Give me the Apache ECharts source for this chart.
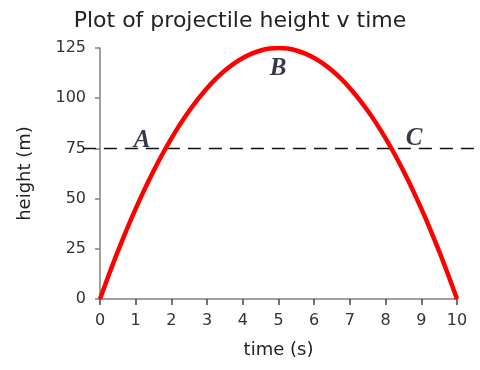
<!DOCTYPE html>
<html>
<head>
<meta charset="utf-8">
<script src="https://cdn.jsdelivr.net/npm/echarts@6/dist/echarts.min.js"></script>
<style>
  html, body { margin: 0; padding: 0; background: #fff; }
  #chart { width: 480px; height: 370px; }
</style>
</head>
<body>
<div id="chart"></div>
<script>
// Projectile flight: time (s) against height (m), sampled every quarter second
const times = [
  0, 0.25, 0.5, 0.75, 1, 1.25, 1.5, 1.75, 2, 2.25, 2.5, 2.75, 3, 3.25, 3.5, 3.75, 4, 4.25, 4.5, 4.75,
  5, 5.25, 5.5, 5.75, 6, 6.25, 6.5, 6.75, 7, 7.25, 7.5, 7.75, 8, 8.25, 8.5, 8.75, 9, 9.25, 9.5, 9.75, 10
];
const heights = [
  0, 12.2, 23.75, 34.7, 45, 54.7, 63.75, 72.2, 80, 87.2, 93.75, 99.7, 105, 109.7, 113.75, 117.2, 120, 122.2, 123.75, 124.7,
  125, 124.7, 123.75, 122.2, 120, 117.2, 113.75, 109.7, 105, 99.7, 93.75, 87.2, 80, 72.2, 63.75, 54.7, 45, 34.7, 23.75, 12.2, 0
];

// Reference height drawn as a dashed line, running a little past both axes
const refHeight = 75;
const refSpan = [-0.48, 10.8];

// Marked points on the path
const markNames = ['A', 'B', 'C'];
const markX = [1.18, 4.99, 8.8];
const markY = [79, 115, 80];

const xTicks = { min: 0, max: 10, interval: 1 };
const yTicks = { min: 0, max: 125, interval: 25 };

const axisGray = '#808080';
const labelFont = { fontFamily: 'DejaVu Sans', fontSize: 16, color: '#333' };

const chart = echarts.init(document.getElementById('chart'), null, { renderer: 'canvas' });
chart.setOption({
  backgroundColor: '#fff',
  animation: false,
  title: {
    text: 'Plot of projectile height v time',
    left: 'center',
    top: 5,
    textStyle: { fontFamily: 'DejaVu Sans', fontSize: 22, fontWeight: 'normal', color: '#222' }
  },
  grid: { left: 100, right: 23, top: 48, bottom: 71 },
  xAxis: {
    type: 'value',
    min: xTicks.min, max: xTicks.max, interval: xTicks.interval,
    name: 'time (s)',
    nameLocation: 'middle',
    nameGap: 42,
    nameTextStyle: { fontFamily: 'DejaVu Sans', fontSize: 18, color: '#222' },
    axisLine: { show: true, onZero: false, lineStyle: { color: axisGray, width: 1.5 } },
    axisTick: { show: true, length: 6, lineStyle: { color: '#444', width: 1.5 } },
    axisLabel: Object.assign({ margin: 14 }, labelFont),
    splitLine: { show: false }
  },
  yAxis: {
    type: 'value',
    min: yTicks.min, max: yTicks.max, interval: yTicks.interval,
    name: 'height (m)',
    nameLocation: 'middle',
    nameGap: 66,
    nameTextStyle: { fontFamily: 'DejaVu Sans', fontSize: 18, color: '#222' },
    axisLine: { show: true, lineStyle: { color: axisGray, width: 1.5 } },
    axisTick: { show: true, length: 5, lineStyle: { color: axisGray, width: 1.5 } },
    axisLabel: Object.assign({ margin: 14 }, labelFont),
    splitLine: { show: false }
  },
  series: [
    {
      type: 'line',
      data: times.map((t, i) => [t, heights[i]]),
      smooth: 0.2,
      symbol: 'none',
      lineStyle: { color: '#f00', width: 4.5 },
      z: 4
    },
    {
      type: 'scatter',
      data: markNames.map((n, i) => ({ name: n, value: [markX[i], markY[i]] })),
      symbolSize: 0,
      clip: false,
      silent: true,
      label: {
        show: true,
        position: 'inside',
        formatter: '{b}',
        fontFamily: 'Liberation Serif',
        fontStyle: 'italic',
        fontWeight: 'bold',
        fontSize: 25,
        color: '#05081c'
      },
      z: 5
    }
  ]
});

// The dashed reference line extends beyond the grid, so place it as a graphic
// using the axes' own scale conversion.
const p0 = chart.convertToPixel({ gridIndex: 0 }, [refSpan[0], refHeight]);
const p1 = chart.convertToPixel({ gridIndex: 0 }, [refSpan[1], refHeight]);
chart.setOption({
  graphic: [{
    type: 'line',
    z: 3,
    silent: true,
    shape: { x1: p0[0], y1: p0[1], x2: p1[0], y2: p1[1] },
    style: { stroke: '#111', lineWidth: 1.5, lineDash: [13, 8] }
  }]
});
</script>
</body>
</html>
